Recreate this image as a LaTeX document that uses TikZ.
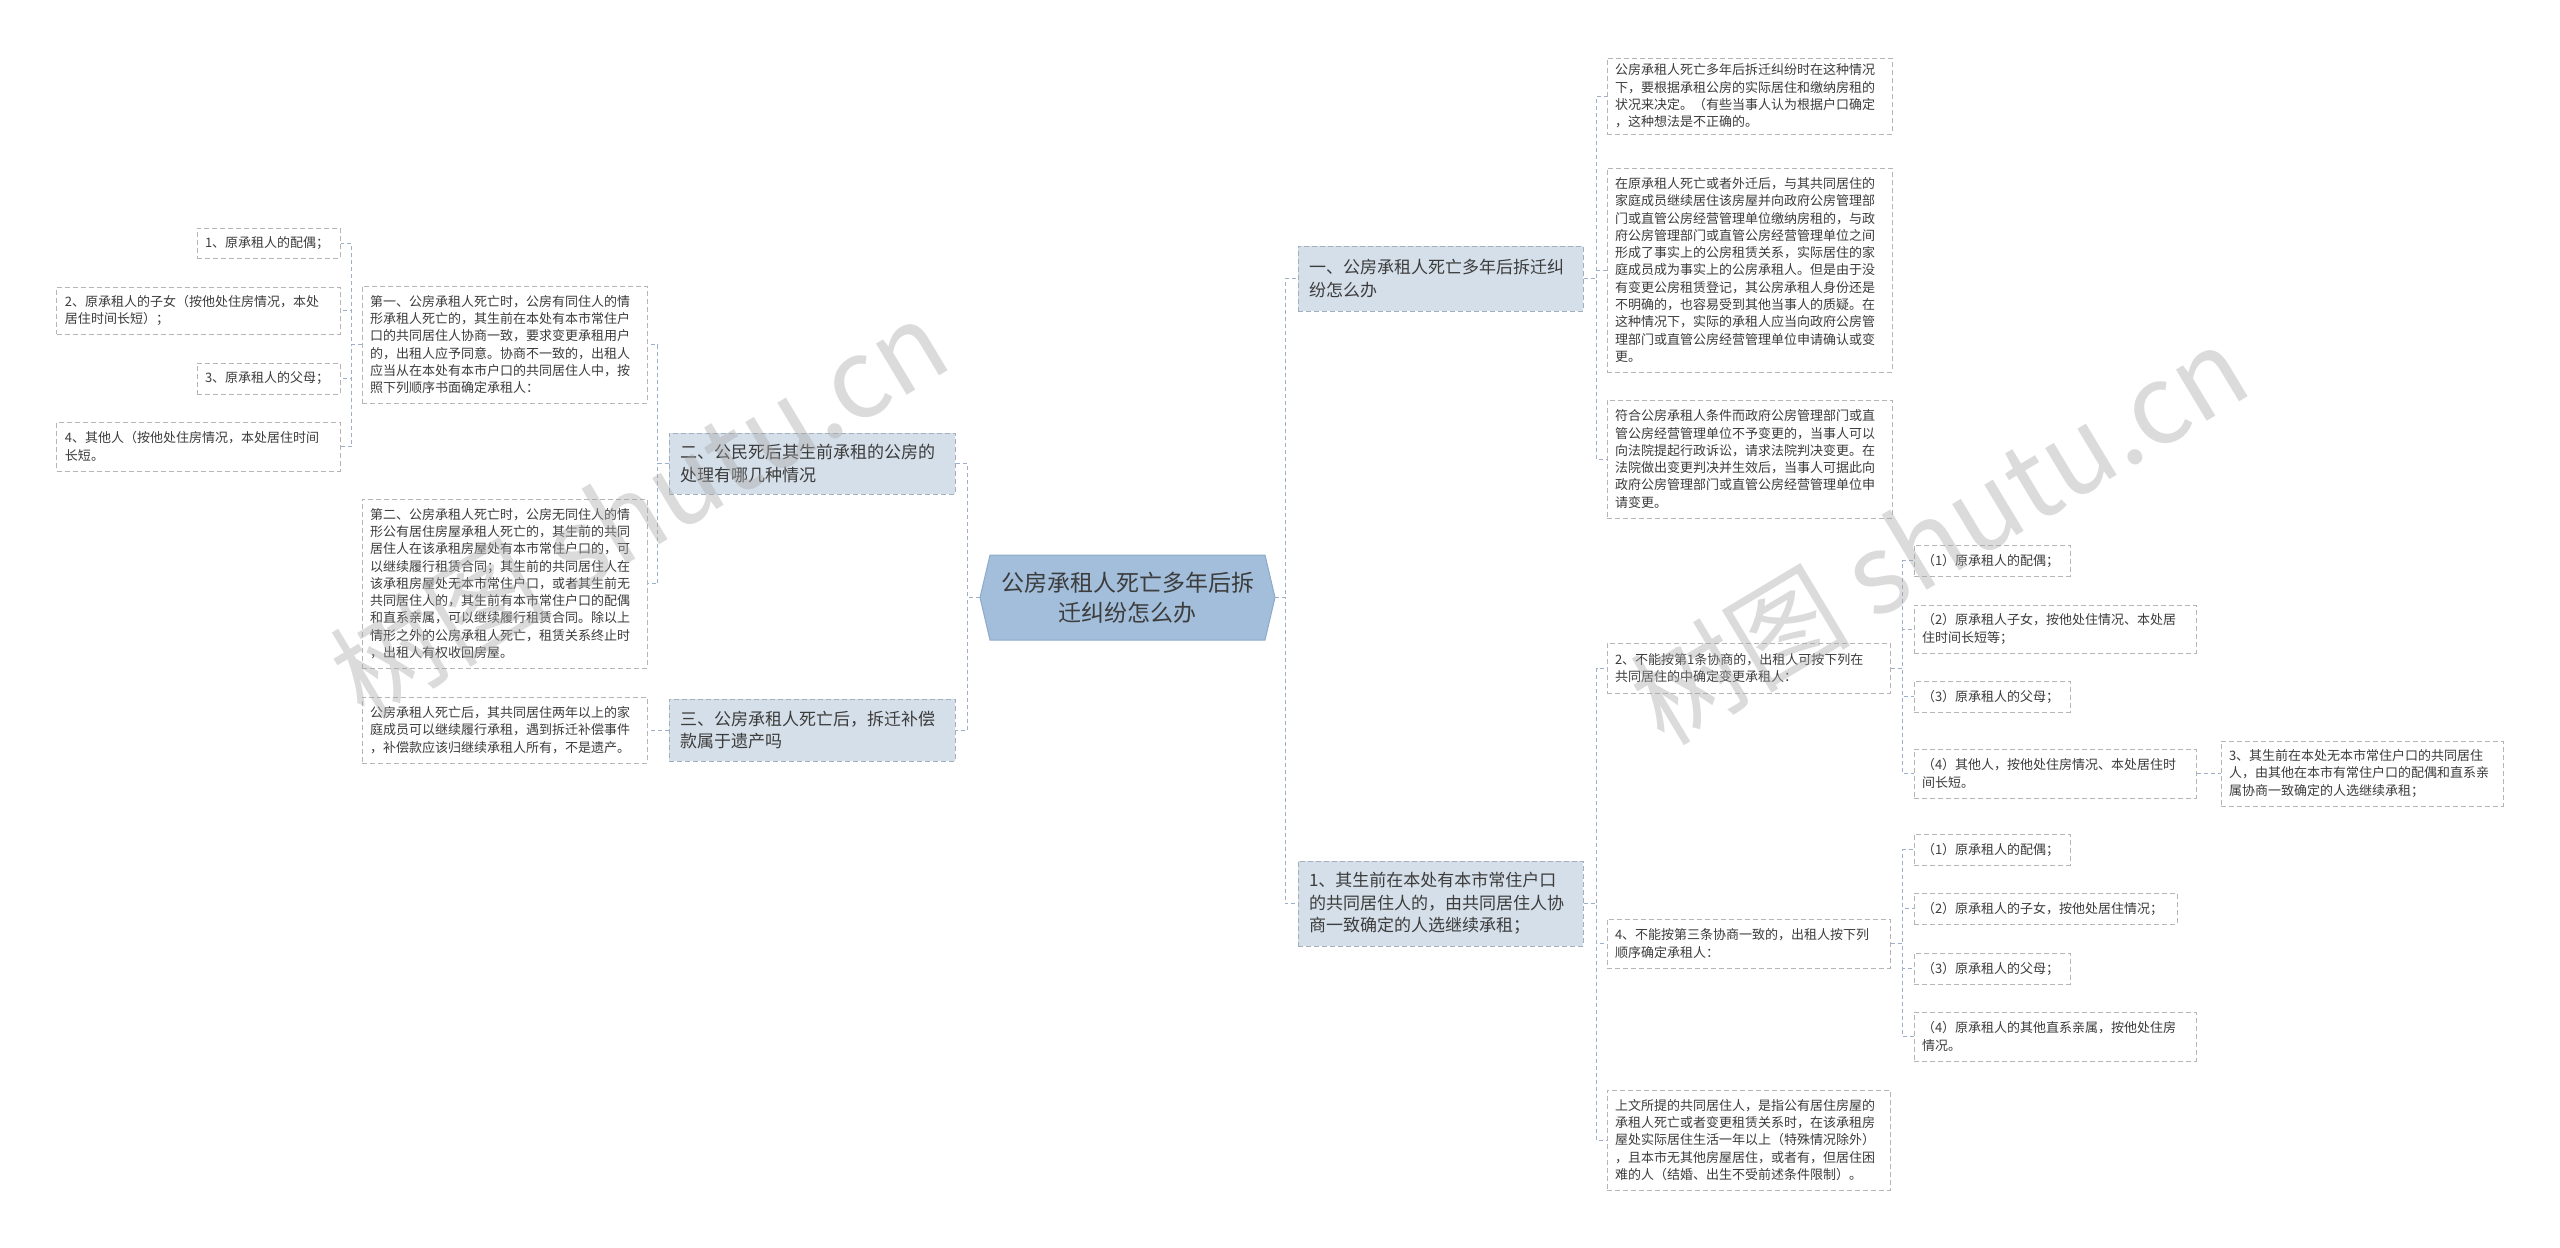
\documentclass[tikz,border=0pt]{standalone}
\usepackage{fontspec}
\newfontfamily\cjk{Noto Sans CJK SC}
\definecolor{conncol}{HTML}{9DB0C8}
\definecolor{leafborder}{HTML}{B4B4B4}
\definecolor{txt}{HTML}{3C3C3C}
\definecolor{topicfill}{HTML}{D5DFE9}
\definecolor{topicborder}{HTML}{A3AFBD}
\definecolor{centerfill}{HTML}{A2BEDB}
\definecolor{centerborder}{HTML}{8EAACB}
\begin{document}
\begin{tikzpicture}[x=1bp,y=-1bp,
  conn/.style={draw=conncol, line width=1bp, dash pattern=on 4bp off 3bp},
  leaf/.style={draw=leafborder, line width=1bp, dash pattern=on 5bp off 3bp, fill=white,
    text=txt, align=left, inner xsep=8bp, inner ysep=2bp,
    font=\cjk\fontsize{13bp}{17.3bp}\selectfont},
  topic/.style={draw=topicborder, line width=1bp, dash pattern=on 5bp off 3bp, fill=topicfill,
    text=txt, align=left, inner xsep=11bp, inner ysep=2bp,
    font=\cjk\fontsize{17bp}{22.5bp}\selectfont},
  wm/.style={font=\cjk\fontsize{110bp}{110bp}\selectfont, text=gray!70, opacity=0.4, inner sep=0pt}
]
\useasboundingbox[fill=white] (0,0) rectangle (2560,1247);

% ---------- centre ----------
\fill[centerfill, draw=centerborder, line width=1bp]
  (980,597.5) -- (990,555) -- (1265,555) -- (1275,597.5) -- (1265,640) -- (990,640) -- cycle;
\node[align=center, text=txt, font=\cjk\fontsize{23bp}{30bp}\selectfont,
  minimum width=295bp, minimum height=85bp, inner sep=0pt] (c) at (1127.5,597.5)
  {公房承租人死亡多年后拆\\迁纠纷怎么办};

% ---------- left ----------
\node[topic, minimum width=286bp, minimum height=61bp, text width=264bp] (n2) at (812,463.5)
  {二、公民死后其生前承租的公房的\\处理有哪几种情况};
\node[topic, minimum width=286bp, minimum height=62bp, text width=264bp] (n3) at (812,730)
  {三、公房承租人死亡后，拆迁补偿\\款属于遗产吗};

\node[leaf, minimum width=285bp, minimum height=117bp, text width=269bp] (b1) at (504.5,344.5)
  {第一、公房承租人死亡时，公房有同住人的情\\形承租人死亡的，其生前在本处有本市常住户\\口的共同居住人协商一致，要求变更承租用户\\的，出租人应予同意。协商不一致的，出租人\\应当从在本处有本市户口的共同居住人中，按\\照下列顺序书面确定承租人：};
\node[leaf, minimum width=285bp, minimum height=169bp, text width=269bp] (b2) at (504.5,583.5)
  {第二、公房承租人死亡时，公房无同住人的情\\形公有居住房屋承租人死亡的，其生前的共同\\居住人在该承租房屋处有本市常住户口的，可\\以继续履行租赁合同；其生前的共同居住人在\\该承租房屋处无本市常住户口，或者其生前无\\共同居住人的，其生前有本市常住户口的配偶\\和直系亲属，可以继续履行租赁合同。除以上\\情形之外的公房承租人死亡，租赁关系终止时\\，出租人有权收回房屋。};
\node[leaf, minimum width=285bp, minimum height=66bp, text width=269bp] (b3l) at (504.5,730)
  {公房承租人死亡后，其共同居住两年以上的家\\庭成员可以继续履行承租，遇到拆迁补偿事件\\，补偿款应该归继续承租人所有，不是遗产。};

\node[leaf, minimum width=143bp, minimum height=30bp, text width=127bp] (l1) at (268.5,243)
  {1、原承租人的配偶；};
\node[leaf, minimum width=283bp, minimum height=47bp, text width=267bp] (l2) at (198.5,310.5)
  {2、原承租人的子女（按他处住房情况，本处\\居住时间长短）；};
\node[leaf, minimum width=143bp, minimum height=31bp, text width=127bp] (l3) at (268.5,378.5)
  {3、原承租人的父母；};
\node[leaf, minimum width=283bp, minimum height=49bp, text width=267bp] (l4) at (198.5,446.5)
  {4、其他人（按他处住房情况，本处居住时间\\长短。};

% ---------- right ----------
\node[topic, minimum width=285bp, minimum height=65bp, text width=263bp] (n1a) at (1440.5,278.5)
  {一、公房承租人死亡多年后拆迁纠\\纷怎么办};
\node[topic, minimum width=285bp, minimum height=85bp, text width=263bp] (n1b) at (1440.5,903.5)
  {1、其生前在本处有本市常住户口\\的共同居住人的，由共同居住人协\\商一致确定的人选继续承租；};

\node[leaf, minimum width=285bp, minimum height=76bp, text width=269bp] (r1) at (1749.5,96)
  {公房承租人死亡多年后拆迁纠纷时在这种情况\\下，要根据承租公房的实际居住和缴纳房租的\\状况来决定。（有些当事人认为根据户口确定\\，这种想法是不正确的。};
\node[leaf, minimum width=285bp, minimum height=204bp, text width=269bp] (r2) at (1749.5,270)
  {在原承租人死亡或者外迁后，与其共同居住的\\家庭成员继续居住该房屋并向政府公房管理部\\门或直管公房经营管理单位缴纳房租的，与政\\府公房管理部门或直管公房经营管理单位之间\\形成了事实上的公房租赁关系，实际居住的家\\庭成员成为事实上的公房承租人。但是由于没\\有变更公房租赁登记，其公房承租人身份还是\\不明确的，也容易受到其他当事人的质疑。在\\这种情况下，实际的承租人应当向政府公房管\\理部门或直管公房经营管理单位申请确认或变\\更。};
\node[leaf, minimum width=285bp, minimum height=118bp, text width=269bp] (r3) at (1749.5,459)
  {符合公房承租人条件而政府公房管理部门或直\\管公房经营管理单位不予变更的，当事人可以\\向法院提起行政诉讼，请求法院判决变更。在\\法院做出变更判决并生效后，当事人可据此向\\政府公房管理部门或直管公房经营管理单位申\\请变更。};

\node[leaf, minimum width=283bp, minimum height=50bp, text width=267bp] (r4) at (1748.5,668)
  {2、不能按第1条协商的，出租人可按下列在\\共同居住的中确定变更承租人：};
\node[leaf, minimum width=283bp, minimum height=49bp, text width=267bp] (r5) at (1748.5,943.5)
  {4、不能按第三条协商一致的，出租人按下列\\顺序确定承租人：};
\node[leaf, minimum width=283bp, minimum height=100bp, text width=267bp] (r6) at (1748.5,1140)
  {上文所提的共同居住人，是指公有居住房屋的\\承租人死亡或者变更租赁关系时，在该承租房\\屋处实际居住生活一年以上（特殊情况除外）\\，且本市无其他房屋居住，或者有，但居住困\\难的人（结婚、出生不受前述条件限制）。};

\node[leaf, minimum width=156bp, minimum height=31bp, text width=140bp] (a1) at (1992,560.5)
  {（1）原承租人的配偶；};
\node[leaf, minimum width=282bp, minimum height=48bp, text width=266bp] (a2) at (2055,629)
  {（2）原承租人子女，按他处住情况、本处居\\住时间长短等；};
\node[leaf, minimum width=156bp, minimum height=31bp, text width=140bp] (a3) at (1992,696.5)
  {（3）原承租人的父母；};
\node[leaf, minimum width=282bp, minimum height=49bp, text width=266bp] (a4) at (2055,773.5)
  {（4）其他人，按他处住房情况、本处居住时\\间长短。};
\node[leaf, minimum width=282bp, minimum height=65bp, text width=266bp] (b3) at (2362,773.5)
  {3、其生前在本处无本市常住户口的共同居住\\人，由其他在本市有常住户口的配偶和直系亲\\属协商一致确定的人选继续承租；};

\node[leaf, minimum width=156bp, minimum height=31bp, text width=140bp] (k1) at (1992,849.5)
  {（1）原承租人的配偶；};
\node[leaf, minimum width=263bp, minimum height=31bp, text width=247bp] (k2) at (2045.5,908.5)
  {（2）原承租人的子女，按他处居住情况；};
\node[leaf, minimum width=156bp, minimum height=31bp, text width=140bp] (k3) at (1992,968.5)
  {（3）原承租人的父母；};
\node[leaf, minimum width=282bp, minimum height=49bp, text width=266bp] (k4) at (2055,1036.5)
  {（4）原承租人的其他直系亲属，按他处住房\\情况。};

% ---------- connectors ----------
\draw[conn] (c.west) -- ++(-12,0) |- (n2.east);
\draw[conn] (c.west) -- ++(-12,0) |- (n3.east);
\draw[conn] (n2.west) -- ++(-11,0) |- (b1.east);
\draw[conn] (n2.west) -- ++(-11,0) |- (b2.east);
\draw[conn] (n3.west) -- (b3l.east);
\foreach \t in {l1,l2,l3,l4} \draw[conn] (b1.west) -- ++(-10,0) |- (\t.east);

\draw[conn] (c.east) -- ++(10,0) |- (n1a.west);
\draw[conn] (c.east) -- ++(10,0) |- (n1b.west);
\foreach \t in {r1,r2,r3} \draw[conn] (n1a.east) -- ++(13,0) |- (\t.west);
\foreach \t in {r4,r5,r6} \draw[conn] (n1b.east) -- ++(13,0) |- (\t.west);
\foreach \t in {a1,a2,a3,a4} \draw[conn] (r4.east) -- ++(12,0) |- (\t.west);
\foreach \t in {k1,k2,k3,k4} \draw[conn] (r5.east) -- ++(12,0) |- (\t.west);
\draw[conn] (a4.east) -- (b3.west);

% ---------- watermarks ----------
\node[wm, rotate=31] (wm1) at (639,508) {树图 shutu.cn};
\node[wm, rotate=31] (wm2) at (1939,534) {树图 shutu.cn};
\end{tikzpicture}
\end{document}
